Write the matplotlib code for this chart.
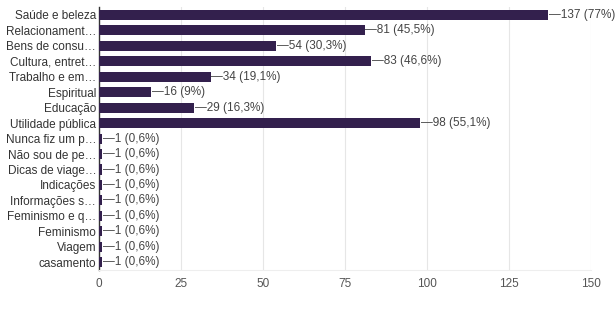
import matplotlib.pyplot as plt

plt.rcParams['font.family'] = ['Liberation Sans', 'DejaVu Sans']

categorias = ['Saúde e beleza', 'Relacionament…', 'Bens de consu…', 'Cultura, entret…',
              'Trabalho e em…', 'Espiritual', 'Educação', 'Utilidade pública',
              'Nunca fiz um p…', 'Não sou de pe…', 'Dicas de viage…', 'Indicações',
              'Informações s…', 'Feminismo e q…', 'Feminismo', 'Viagem', 'casamento']
respostas = [137, 81, 54, 83, 34, 16, 29, 98, 1, 1, 1, 1, 1, 1, 1, 1, 1]
percentuais = ['77%', '45,5%', '30,3%', '46,6%', '19,1%', '9%', '16,3%', '55,1%',
               '0,6%', '0,6%', '0,6%', '0,6%', '0,6%', '0,6%', '0,6%', '0,6%', '0,6%']
ticks_x = [0, 25, 50, 75, 100, 125, 150]

fig = plt.figure(figsize=(6.15, 3.09), dpi=100)
ax = fig.add_axes([0.161, 0.126, 0.800, 0.851])

y = list(range(len(categorias)))
ax.barh(y, respostas, height=0.65, color='#33204d', zorder=3)

# rótulo com traço ligado ao fim da barra
for yi, v, p in zip(y, respostas, percentuais):
    ax.annotate(f'\u2014{v} ({p})', xy=(v, yi), xytext=(0.5, 0), textcoords='offset points',
                va='center', ha='left', fontsize=8.5, color='#444444')

ax.set_ylim(len(categorias) - 0.5, -0.5)
ax.set_xlim(0, 150)
ax.set_yticks(y)
ax.set_yticklabels(categorias, fontsize=8.5, color='#333333')
ax.set_xticks(ticks_x)
ax.set_xticklabels([str(t) for t in ticks_x], fontsize=8.5, color='#555555')
ax.tick_params(axis='both', length=0)
ax.tick_params(axis='y', pad=2)
ax.tick_params(axis='x', pad=6)

ax.grid(axis='x', color='#e6e6e6', lw=0.8, zorder=0)
for s in ['top', 'right']:
    ax.spines[s].set_visible(False)
ax.spines['bottom'].set_color('#eeeeee')
ax.spines['left'].set_color('#333333')
ax.spines['left'].set_linewidth(1.0)

fig.savefig('out.png', dpi=100)
